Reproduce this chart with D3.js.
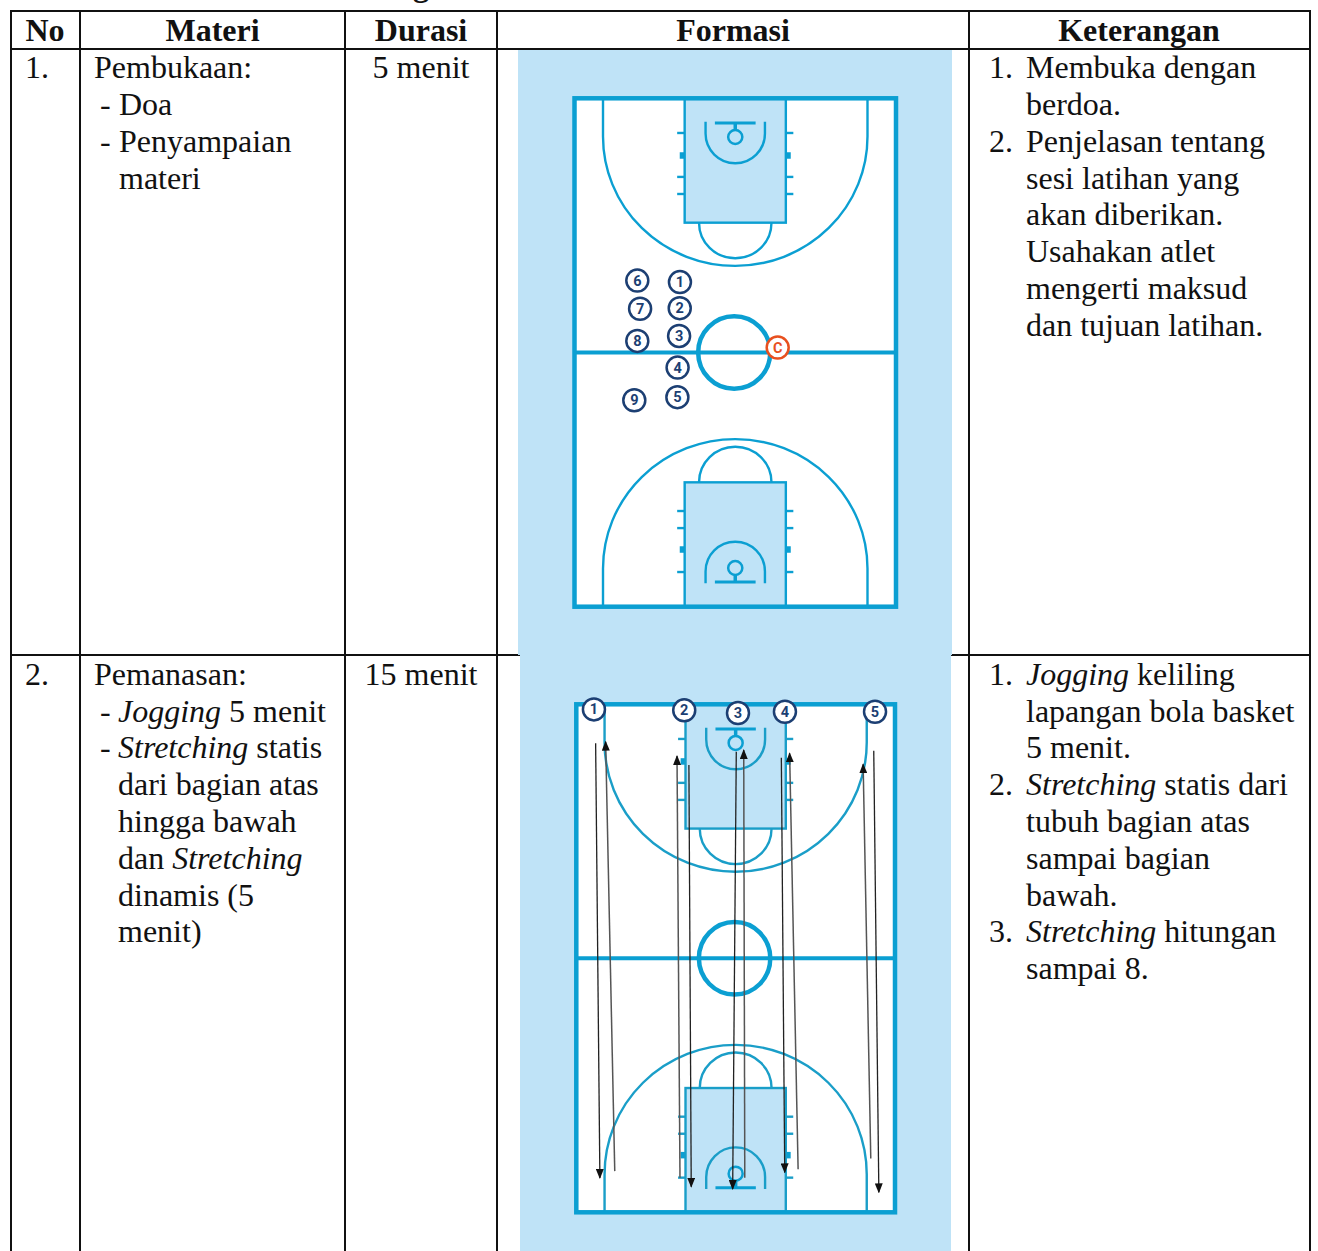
<!DOCTYPE html>
<html>
<head>
<meta charset="utf-8">
<title>Formasi latihan</title>
<script src="https://cdnjs.cloudflare.com/ajax/libs/d3/7.8.5/d3.min.js"></script>
<style>
    html, body { margin: 0; padding: 0; background: #fff; overflow: hidden; }
    svg { display: block; }
    text.cell { font-family: "Liberation Serif", serif; font-size: 32px; fill: #111; }
    text.head { font-weight: bold; text-anchor: middle; }
    text.player { font-family: Roboto, sans-serif; font-size: 14.5px; font-weight: 700; text-anchor: middle; dominant-baseline: central; }
</style>
</head>
<body>
<svg id="chart" width="1318" height="1251"></svg>
<script>
// table text
const headers = ['No', 'Materi', 'Durasi', 'Formasi', 'Keterangan'];
const rowNumbers = ['1.', '2.'];
const durations = ['5 menit', '15 menit'];

// first field: 'h' heading line, '-' new bullet, '' continuation. *x* is italic
const materi1 = [['h', 'Pembukaan:'], ['-', 'Doa'], ['-', 'Penyampaian'], ['', 'materi']];
const materi2 = [['h', 'Pemanasan:'], ['-', '*Jogging* 5 menit'], ['-', '*Stretching* statis'],
    ['', 'dari bagian atas'], ['', 'hingga bawah'], ['', 'dan *Stretching*'], ['', 'dinamis (5'], ['', 'menit)']];

const keterangan1 = [['1.', 'Membuka dengan'], ['', 'berdoa.'], ['2.', 'Penjelasan tentang'], ['', 'sesi latihan yang'],
    ['', 'akan diberikan.'], ['', 'Usahakan atlet'], ['', 'mengerti maksud'], ['', 'dan tujuan latihan.']];
const keterangan2 = [['1.', '*Jogging* keliling'], ['', 'lapangan bola basket'], ['', '5 menit.'], ['2.', '*Stretching* statis dari'],
    ['', 'tubuh bagian atas'], ['', 'sampai bagian'], ['', 'bawah.'], ['3.', '*Stretching* hitungan'], ['', 'sampai 8.']];

// court features in metres: x from the centre line of the court, y from the baseline
const keyHalfWidth = 2.36, keyLength = 6.85;
const threeHalfWidth = 6.17, threeStraight = 2.1, threeDepth = 9.23;
const freeThrow = { rx: 1.69, ry: 1.96 };
const restricted = { halfWidth: 1.385, start: 1.29, arcStart: 1.945, depth: 3.58 };
const backboard = { halfWidth: 0.95, y: 1.36 };
const hoop = { y: 2.13, rx: 0.33, ry: 0.385, stem: 1.75 };
const laneTicks = [1.91, 4.33, 5.27];
const laneBlock = 3.15;
const centreCircle = { rx: 1.68, ry: 2.0 };

const players1 = [
    { id: '1', x: -2.58, y: 10.12 }, { id: '2', x: -2.59, y: 11.56 }, { id: '3', x: -2.62, y: 13.09 },
    { id: '4', x: -2.69, y: 14.83 }, { id: '5', x: -2.70, y: 16.46 }, { id: '6', x: -4.57, y: 10.04 },
    { id: '7', x: -4.44, y: 11.59 }, { id: '8', x: -4.57, y: 13.36 }, { id: '9', x: -4.71, y: 16.63 },
    { id: 'C', x: 1.98, y: 13.73 }
];
const players2 = [
    { id: '1', x: -6.67, y: 0.28 }, { id: '2', x: -2.42, y: 0.33 }, { id: '3', x: 0.11, y: 0.48 },
    { id: '4', x: 2.32, y: 0.41 }, { id: '5', x: 6.56, y: 0.41 }
];

// jogging runs of the five players: [fromX, fromY, toX, toY]
const runsDown = [
    [-6.59, 2.15, -6.39, 26.11], [-2.20, 3.35, -2.09, 26.59], [0.03, 2.61, -0.14, 26.72],
    [2.15, 2.94, 2.31, 25.80], [6.50, 2.56, 6.74, 26.90]
];
const runsUp = [
    [-5.69, 25.73, -6.12, 2.06], [-2.62, 26.10, -2.76, 2.85], [0.43, 26.10, 0.38, 2.52],
    [2.94, 25.63, 2.54, 2.70], [6.36, 25.03, 6.00, 3.31]
];

const LINE = '#0b9fd2', PANEL = '#bfe3f7', NAVY = '#1c3f73', ORANGE = '#e8501f';
const LINE_H = 36.8;

const svg = d3.select('#chart');

svg.append('defs').append('marker')
    .attr('id', 'arrow')
    .attr('markerUnits', 'userSpaceOnUse')
    .attr('viewBox', '0 0 10 10')
    .attr('preserveAspectRatio', 'none')
    .attr('refX', 9).attr('refY', 5)
    .attr('markerWidth', 10).attr('markerHeight', 8)
    .attr('orient', 'auto')
    .append('path')
    .attr('d', 'M0,0L10,5L0,10Z')
    .attr('fill', '#111');

// part of the caption above the table, cut off by the crop
svg.append('text').attr('class', 'cell head').attr('x', 421).attr('y', -4).text('g');

// grid
const gridX = [11, 80, 345, 497, 969, 1310];
const gridY = [11, 49, 655];
const grid = svg.append('g').attr('stroke', '#111').attr('stroke-width', 2);
grid.selectAll('.v').data(gridX).join('line').attr('class', 'v')
    .attr('x1', d => d).attr('x2', d => d).attr('y1', 10).attr('y2', 1251);
grid.selectAll('.h').data(gridY).join('line').attr('class', 'h')
    .attr('x1', 10).attr('x2', 1311).attr('y1', d => d).attr('y2', d => d);

// header row
const headerCentres = [45, 212.5, 421, 733, 1139];
svg.selectAll('.head-cell').data(headers).join('text')
    .attr('class', 'cell head head-cell')
    .attr('x', (d, i) => headerCentres[i]).attr('y', 41)
    .text(d => d);

function addRich(textSel, s) {
    s.split('*').forEach((part, i) => {
        if (part) textSel.append('tspan').attr('font-style', i % 2 ? 'italic' : 'normal').text(part);
    });
}

function drawLines(lines, top, opts) {
    lines.forEach((line, i) => {
        const y = top + i * LINE_H;
        const [kind, body] = line;
        if (kind && kind !== 'h') {
            svg.append('text').attr('class', 'cell').attr('x', opts.markerX).attr('y', y).text(kind);
        }
        const t = svg.append('text').attr('class', 'cell')
            .attr('x', kind === 'h' ? opts.headX : opts.bodyX).attr('y', y);
        addRich(t, body);
    });
}

const rowTops = [78.2, 684.8];
rowNumbers.forEach((n, i) => {
    svg.append('text').attr('class', 'cell').attr('x', 25).attr('y', rowTops[i]).text(n);
    svg.append('text').attr('class', 'cell').attr('x', 421).attr('y', rowTops[i])
        .attr('text-anchor', 'middle').text(durations[i]);
});
drawLines(materi1, rowTops[0], { headX: 94, markerX: 100, bodyX: 119 });
drawLines(materi2, rowTops[1], { headX: 94, markerX: 100, bodyX: 118 });
drawLines(keterangan1, rowTops[0], { markerX: 989, bodyX: 1026 });
drawLines(keterangan2, rowTops[1], { markerX: 989, bodyX: 1026 });

function drawCourt(panel, box, players, down, up, thinColor) {
    svg.append('rect')
        .attr('x', panel[0]).attr('y', panel[1])
        .attr('width', panel[2] - panel[0]).attr('height', panel[3] - panel[1])
        .attr('fill', PANEL);

    const x = d3.scaleLinear().domain([-7.5, 7.5]).range([box[0], box[1]]);
    const y = d3.scaleLinear().domain([0, 28]).range([box[2], box[3]]);
    const g = svg.append('g').attr('fill', 'none').attr('stroke', LINE);
    const thin = 2.4;

    g.append('rect')
        .attr('x', x(-7.5)).attr('y', y(0))
        .attr('width', x(7.5) - x(-7.5)).attr('height', y(28) - y(0))
        .attr('fill', '#fff').attr('stroke', 'none');

    // both halves are the same drawing, the second one measured from the far baseline
    [d => y(d), d => y(28 - d)].forEach(fy => {
        const rx = x(threeHalfWidth) - x(0);
        const sweep = fy(1) > fy(0) ? 0 : 1;
        const ell = (ax, ay, bx, by, erx, ery) =>
            `M${x(ax)},${fy(ay)}A${erx},${ery} 0 0 ${sweep} ${x(bx)},${fy(by)}`;

        // three point line
        g.append('path').attr('stroke-width', thin).attr('stroke', thinColor)
            .attr('d', `M${x(-threeHalfWidth)},${fy(0)}L${x(-threeHalfWidth)},${fy(threeStraight)}` +
                ell(-threeHalfWidth, threeStraight, threeHalfWidth, threeStraight, rx, Math.abs(fy(threeDepth) - fy(threeStraight))) +
                `L${x(threeHalfWidth)},${fy(0)}`);

        // free throw semicircle
        g.append('path').attr('stroke-width', thin).attr('stroke', thinColor)
            .attr('d', ell(-freeThrow.rx, keyLength, freeThrow.rx, keyLength,
                x(freeThrow.rx) - x(0), Math.abs(fy(keyLength + freeThrow.ry) - fy(keyLength))));

        // lane ticks and blocks
        laneTicks.forEach(t => {
            [-1, 1].forEach(s => {
                g.append('line').attr('stroke-width', thin).attr('stroke', thinColor)
                    .attr('x1', x(s * keyHalfWidth)).attr('x2', x(s * (keyHalfWidth + 0.35)))
                    .attr('y1', fy(t)).attr('y2', fy(t));
            });
        });
        [-1, 1].forEach(s => {
            g.append('line').attr('stroke-width', 6.5)
                .attr('x1', x(s * keyHalfWidth)).attr('x2', x(s * (keyHalfWidth + 0.23)))
                .attr('y1', fy(laneBlock)).attr('y2', fy(laneBlock));
        });

        // key
        g.append('rect').attr('stroke-width', 2.4).attr('fill', PANEL).attr('stroke', thinColor)
            .attr('x', x(-keyHalfWidth)).attr('width', x(keyHalfWidth) - x(-keyHalfWidth))
            .attr('y', Math.min(fy(0), fy(keyLength))).attr('height', Math.abs(fy(keyLength) - fy(0)));

        // restricted area
        const rr = restricted;
        g.append('path').attr('stroke-width', thin).attr('stroke', thinColor)
            .attr('d', `M${x(-rr.halfWidth)},${fy(rr.start)}L${x(-rr.halfWidth)},${fy(rr.arcStart)}` +
                ell(-rr.halfWidth, rr.arcStart, rr.halfWidth, rr.arcStart,
                    x(rr.halfWidth) - x(0), Math.abs(fy(rr.depth) - fy(rr.arcStart))) +
                `L${x(rr.halfWidth)},${fy(rr.start)}`);

        // backboard and hoop
        g.append('line').attr('stroke-width', 3)
            .attr('x1', x(-backboard.halfWidth)).attr('x2', x(backboard.halfWidth))
            .attr('y1', fy(backboard.y)).attr('y2', fy(backboard.y));
        g.append('line').attr('stroke-width', 3.5)
            .attr('x1', x(0)).attr('x2', x(0))
            .attr('y1', fy(backboard.y)).attr('y2', fy(hoop.stem));
        g.append('ellipse').attr('stroke-width', 2.5)
            .attr('cx', x(0)).attr('cy', fy(hoop.y))
            .attr('rx', x(hoop.rx) - x(0)).attr('ry', Math.abs(fy(hoop.y + hoop.ry) - fy(hoop.y)));
    });

    // midline, centre circle and boundary
    g.append('line').attr('stroke-width', 4)
        .attr('x1', x(-7.5)).attr('x2', x(7.5)).attr('y1', y(14)).attr('y2', y(14));
    g.append('ellipse').attr('stroke-width', 4.5)
        .attr('cx', x(-0.05)).attr('cy', y(14))
        .attr('rx', x(centreCircle.rx) - x(0)).attr('ry', y(14 + centreCircle.ry) - y(14));
    g.append('rect').attr('stroke-width', 4.5)
        .attr('x', x(-7.5)).attr('y', y(0))
        .attr('width', x(7.5) - x(-7.5)).attr('height', y(28) - y(0));

    // running lines
    const runs = svg.append('g').attr('fill', 'none');
    runs.selectAll('.up').data(up).join('line').attr('class', 'up')
        .attr('stroke', '#555').attr('stroke-width', 1.5).attr('marker-end', 'url(#arrow)')
        .attr('x1', d => x(d[0])).attr('y1', d => y(d[1]))
        .attr('x2', d => x(d[2])).attr('y2', d => y(d[3]));
    runs.selectAll('.down').data(down).join('line').attr('class', 'down')
        .attr('stroke', '#222').attr('stroke-width', 1.3).attr('marker-end', 'url(#arrow)')
        .attr('x1', d => x(d[0])).attr('y1', d => y(d[1]))
        .attr('x2', d => x(d[2])).attr('y2', d => y(d[3]));

    // players
    const p = svg.append('g').selectAll('g').data(players).join('g')
        .attr('transform', d => `translate(${x(d.x)},${y(d.y)})`);
    p.append('circle').attr('r', 11)
        .attr('fill', '#fff').attr('stroke-width', 2.5)
        .attr('stroke', d => d.id === 'C' ? ORANGE : NAVY);
    p.append('text').attr('class', 'player').attr('y', 0.5)
        .attr('fill', d => d.id === 'C' ? ORANGE : NAVY)
        .text(d => d.id);
}

drawCourt([518, 50, 952, 655], [574.5, 896, 98.3, 606.7], players1, [], [], LINE);
drawCourt([520, 655, 951, 1251], [576.3, 895, 704.3, 1212.3], players2, runsDown, runsUp, '#1a9ec8');
</script>
</body>
</html>
